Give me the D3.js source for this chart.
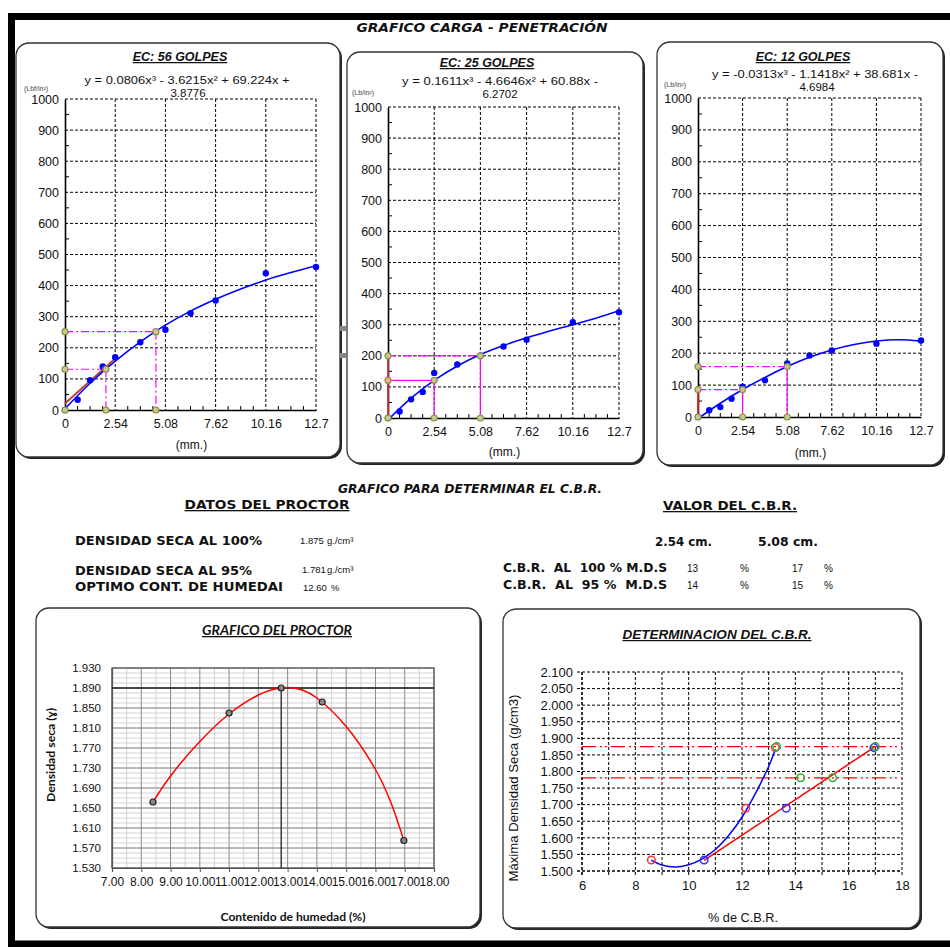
<!DOCTYPE html>
<html>
<head>
<meta charset="utf-8">
<script src="https://cdn.jsdelivr.net/npm/d3@7"></script>
<style>
body { margin: 0; background: #fff; }
text { font-family: "Liberation Sans", Arial, sans-serif; fill: #111; }
</style>
</head>
<body>
<div id="chart"></div>
<script>
// ---- data ----
// penetration (mm) and load (lb/in2) for the three compaction energies
var penX = [0, 0.64, 1.27, 1.91, 2.54, 3.81, 5.08, 6.35, 7.62, 10.16, 12.7];
var load56 = [0, 33, 96, 140, 170, 218, 258, 311, 352, 440, 460];
var load25 = [0, 21, 60, 84, 145, 172, 200, 230, 252, 308, 340];
var load12 = [0, 21, 31, 57, 95, 115, 168, 193, 209, 230, 240];

// trend lines as drawn on the charts
var trendX = [0, 1.27, 2.54, 3.81, 5.08, 6.35, 7.62, 8.89, 10.16, 11.43, 12.7];
var trend56 = [4, 86, 157, 219, 273, 318, 356, 389, 418, 442, 464];
var trend25 = [-6, 64, 121, 167, 204, 233, 258, 280, 300, 321, 345];
var trend12 = [-5, 43, 86, 124, 158, 187, 210, 227, 238, 242, 238];

// corrected readings at 2.54 / 5.08 mm (x position, load)
var corrX56 = [2.07, 4.6], corrY56 = [131, 252];
var corrX25 = [2.54, 5.08], corrY25 = [121, 200];
var corrX12 = [2.54, 5.08], corrY12 = [86, 158];
// red correction lines  [x0, y0, x1, y1]
var red56 = [0, 21, 2.54, 166];
var red25 = [0, 0, 0, 200];
var red12 = [0, 0, 0, 86];

var penTicks = [0, 2.54, 5.08, 7.62, 10.16, 12.7];
var penTickLabels = ["0", "2.54", "5.08", "7.62", "10.16", "12.7"];
var loadTicks = [0, 100, 200, 300, 400, 500, 600, 700, 800, 900, 1000];

// proctor
var moisture = [8.40, 11.0, 12.78, 14.18, 16.97];
var dryDens = [1.662, 1.840, 1.890, 1.862, 1.585];
var proctorCurveX = [8.4, 9, 10, 11, 12, 12.5, 13, 13.5, 14, 15, 16, 16.5, 16.97];
var proctorCurveY = [1.662, 1.714, 1.783, 1.838, 1.876, 1.887, 1.891, 1.886, 1.870, 1.813, 1.727, 1.665, 1.585];
var maxDensLine = 1.890, optMoistLine = 12.78;
var proctorXTicks = [7, 8, 9, 10, 11, 12, 13, 14, 15, 16, 17, 18];
var proctorYTicks = [1.53, 1.57, 1.61, 1.65, 1.69, 1.73, 1.77, 1.81, 1.85, 1.89, 1.93];

// CBR determination
var densBlows = [1.533, 1.689, 1.872];          // 12, 25, 56 golpes
var cbr254 = [8.6, 12.14, 13.25];
var cbr508 = [10.58, 13.66, 16.95];
var fit254X = [8.6, 9.0, 9.5, 10.0, 10.5, 11.0, 11.5, 12.0, 12.5, 13.0, 13.25];
var fit254Y = [1.533, 1.518, 1.512, 1.519, 1.536, 1.565, 1.607, 1.662, 1.733, 1.815, 1.866];
var fit508X = [10.58, 16.95];
var fit508Y = [1.532, 1.873];
var refDens = [1.875, 1.781];
var cbrHitX = [13.3, 14.2, 15.4, 17.0];
var cbrHitY = [1.875, 1.781, 1.781, 1.875];
var cbrXTicks = [6, 8, 10, 12, 14, 16, 18];
var cbrYTicks = [1.5, 1.55, 1.6, 1.65, 1.7, 1.75, 1.8, 1.85, 1.9, 1.95, 2.0, 2.05, 2.1];

var svg = d3.select("#chart").append("svg")
    .attr("width", 950)
    .attr("height", 947);

// outer sheet frame (right side cut off)
svg.append("path")
    .attr("d", "M950,16.5 H11.5 V944 H950")
    .attr("fill", "none")
    .attr("stroke", "#000")
    .attr("stroke-width", 7);

function panel(x0, y0, x1, y1) {
    svg.append("rect")
        .attr("x", x0 + 2).attr("y", y0 + 2)
        .attr("width", x1 - x0).attr("height", y1 - y0)
        .attr("rx", 13)
        .attr("fill", "#222");
    svg.append("rect")
        .attr("x", x0).attr("y", y0)
        .attr("width", x1 - x0).attr("height", y1 - y0)
        .attr("rx", 13)
        .attr("fill", "#fff")
        .attr("stroke", "#333")
        .attr("stroke-width", 1.3);
}

function txt(x, y, s, o) {
    o = o || {};
    var t = svg.append("text")
        .attr("x", x).attr("y", y)
        .attr("text-anchor", o.anchor || "start")
        .attr("font-size", o.size || 12)
        .text(s);
    if (o.bold) t.attr("font-weight", "bold");
    if (o.italic) t.attr("font-style", "italic");
    if (o.under) t.style("text-decoration", "underline");
    if (o.family) t.style("font-family", o.family);
    if (o.len) t.attr("textLength", o.len).attr("lengthAdjust", "spacingAndGlyphs");
    if (o.fill) t.style("fill", o.fill);
    return t;
}

// titles
txt(482, 32, "GRAFICO CARGA - PENETRACIÓN", {anchor: "middle", bold: true, italic: true, size: 13, family: "DejaVu Sans", len: 251});

// ---- penetration charts ----
function drawPen(o) {
    panel(o.px0, o.py0, o.px1, o.py1);
    var x = d3.scaleLinear().domain([0, 12.7]).range([o.l, o.r]);
    var y = d3.scaleLinear().domain([0, 1000]).range([o.b, o.t]);
    var g = svg.append("g");

    // grid
    g.selectAll(".hg").data(loadTicks.slice(1)).enter().append("line")
        .attr("x1", o.l).attr("x2", o.r)
        .attr("y1", d => y(d)).attr("y2", d => y(d))
        .attr("stroke", "#000").attr("stroke-dasharray", "3,2");
    g.selectAll(".vg").data(penTicks.slice(1)).enter().append("line")
        .attr("y1", o.t).attr("y2", o.b)
        .attr("x1", d => x(d)).attr("x2", d => x(d))
        .attr("stroke", "#000").attr("stroke-dasharray", "3,2");

    // minor ticks
    g.selectAll(".my").data(d3.range(50, 1000, 100)).enter().append("line")
        .attr("x1", o.l).attr("x2", o.l + 4)
        .attr("y1", d => y(d)).attr("y2", d => y(d))
        .attr("stroke", "#000");
    g.selectAll(".mx").data(d3.range(1, 20).filter(i => i % 4 != 0).map(i => i * 0.635)).enter().append("line")
        .attr("x1", d => x(d)).attr("x2", d => x(d))
        .attr("y1", o.b).attr("y2", o.b - 4)
        .attr("stroke", "#000");

    // axes
    var leftAxis = d3.axisLeft(y).tickValues(loadTicks).tickSize(0).tickPadding(6).tickFormat(d3.format("d"));
    var bottomAxis = d3.axisBottom(x).tickValues(penTicks).tickSize(0).tickPadding(9)
        .tickFormat((d, i) => penTickLabels[i]);
    var ga = g.append("g").attr("transform", `translate(${o.l},0)`).call(leftAxis);
    var gb = g.append("g").attr("transform", `translate(0,${o.b})`).call(bottomAxis);
    [ga, gb].forEach(a => {
        a.select(".domain").attr("stroke", "#000").attr("stroke-width", 1.6);
        a.selectAll("text").attr("font-size", 12.5).attr("font-family", "Liberation Sans").attr("fill", "#111");
    });
    gb.selectAll("text").attr("dy", "0.71em");

    // clip
    var cid = "clip" + o.id;
    svg.append("clipPath").attr("id", cid).append("rect")
        .attr("x", o.l).attr("y", o.t).attr("width", o.r - o.l).attr("height", o.b - o.t);

    // correction lines
    var cx = o.corrX, cy = o.corrY;
    for (var i = 0; i < 2; i++) {
        g.append("line")
            .attr("x1", x(0)).attr("x2", x(cx[i]))
            .attr("y1", y(cy[i])).attr("y2", y(cy[i]))
            .attr("stroke", "#ff00ff").attr("stroke-width", 1.2)
            .attr("stroke-dasharray", o.hDash[i]);
        g.append("line")
            .attr("x1", x(cx[i])).attr("x2", x(cx[i]))
            .attr("y1", y(cy[i])).attr("y2", y(0))
            .attr("stroke", "#ff00ff").attr("stroke-width", 1.2)
            .attr("stroke-dasharray", o.vDash);
    }
    g.append("line")
        .attr("x1", x(o.red[0])).attr("y1", y(o.red[1]))
        .attr("x2", x(o.red[2])).attr("y2", y(o.red[3]))
        .attr("stroke", o.redColor).attr("stroke-width", 1.8);

    // trend
    var line = d3.line().x((d, i) => x(trendX[i])).y(d => y(d)).curve(d3.curveCatmullRom);
    g.append("path").datum(o.trend)
        .attr("clip-path", `url(#${cid})`)
        .attr("d", line)
        .attr("fill", "none").attr("stroke", "#0000ff").attr("stroke-width", 1.6);

    // points
    g.selectAll(".pt").data(o.load).enter().append("circle")
        .attr("cx", (d, i) => x(penX[i])).attr("cy", d => y(d))
        .attr("r", 3.2).attr("fill", "#0000ff");

    // olive markers
    var marks = [[0, 0]];
    for (var j = 0; j < 2; j++) {
        marks.push([0, cy[j]], [cx[j], cy[j]], [cx[j], 0]);
    }
    g.selectAll(".om").data(marks).enter().append("circle")
        .attr("cx", d => x(d[0])).attr("cy", d => y(d[1]))
        .attr("r", 3).attr("fill", "#c9c98f").attr("stroke", "#8e8e4a").attr("stroke-width", 1.2);

    // texts
    txt(o.titleX, o.titleY, o.title, {anchor: "middle", bold: true, italic: true, under: true, size: 12.5});
    txt(o.eqX, o.eqY, o.eq1, {anchor: "middle", size: 11.5, len: o.eqLen});
    txt(o.eqX2, o.eqY + 13, o.eq2, {anchor: "middle", size: 11.5});
    txt(o.unitX, o.unitY, o.unit, {size: 7, fill: "#444"});
    txt((o.l + o.r) / 2 + 1, o.mmY, "(mm.)", {anchor: "middle", size: 12});
}

drawPen({id: 1, px0: 16, py0: 43, px1: 340, py1: 457, l: 65, r: 316, t: 99, b: 410,
    load: load56, trend: trend56, corrX: corrX56, corrY: corrY56, red: red56, redColor: "#c0392b",
    hDash: ["8,3,2,3", "8,3,2,3"], vDash: "8,3,2,3",
    title: "EC: 56 GOLPES", titleX: 180, titleY: 61,
    eq1: "y = 0.0806x³ - 3.6215x² + 69.224x +", eq2: "3.8776", eqX: 187, eqX2: 188, eqY: 84, eqLen: 205,
    unit: "(Lbf/in²)", unitX: 24, unitY: 91, mmY: 449});

drawPen({id: 2, px0: 347, py0: 52, px1: 643, py1: 463, l: 388, r: 619, t: 107, b: 418,
    load: load25, trend: trend25, corrX: corrX25, corrY: corrY25, red: red25, redColor: "#d03030",
    hDash: ["none", "8,3,2,3"], vDash: "none",
    title: "EC: 25 GOLPES", titleX: 487, titleY: 67,
    eq1: "y = 0.1611x³ - 4.6646x² + 60.88x -", eq2: "6.2702", eqX: 500, eqX2: 500, eqY: 85, eqLen: 196,
    unit: "(Lb/in²)", unitX: 352, unitY: 95, mmY: 456});

drawPen({id: 3, px0: 657, py0: 42, px1: 943, py1: 465, l: 698, r: 921, t: 98, b: 417,
    load: load12, trend: trend12, corrX: corrX12, corrY: corrY12, red: red12, redColor: "#e02020",
    hDash: ["8,3,2,3", "8,3,2,3"], vDash: "none",
    title: "EC: 12  GOLPES", titleX: 803, titleY: 61,
    eq1: "y = -0.0313x³ - 1.1418x² + 38.681x -", eq2: "4.6984", eqX: 815, eqX2: 817, eqY: 78, eqLen: 206,
    unit: "(Lb/in²)", unitX: 664, unitY: 87, mmY: 457});

// grey marks between the first two panels
svg.append("rect").attr("x", 340).attr("y", 326).attr("width", 6).attr("height", 5).attr("fill", "#888");
svg.append("rect").attr("x", 340).attr("y", 353).attr("width", 6).attr("height", 5).attr("fill", "#888");

// ---- middle block ----
var heavy = "DejaVu Sans";
txt(470, 493, "GRAFICO PARA DETERMINAR EL C.B.R.", {anchor: "middle", bold: true, italic: true, size: 12, family: heavy, len: 264});
txt(267, 509, "DATOS DEL PROCTOR", {anchor: "middle", bold: true, under: true, size: 13, family: heavy, len: 165});
txt(75, 545, "DENSIDAD SECA AL 100%", {bold: true, size: 12, family: heavy, len: 187});
txt(75, 575, "DENSIDAD SECA AL 95%", {bold: true, size: 12, family: heavy, len: 177});
txt(75, 591, "OPTIMO CONT. DE HUMEDAI", {bold: true, size: 12, family: heavy, len: 208});
var proctorVals = [["1.875", 300, 544, "g./cm³", 327], ["1.781", 302, 573, "g./cm³", 327], ["12.60", 303, 591, "%", 331]];
proctorVals.forEach(function (v) {
    txt(v[1], v[2], v[0], {size: 9.5});
    txt(v[4], v[2], v[3], {size: 9.5});
});

txt(730, 510, "VALOR DEL C.B.R.", {anchor: "middle", bold: true, under: true, size: 13, family: heavy, len: 134});
txt(655, 546, "2.54 cm.", {bold: true, size: 12, family: heavy, len: 57});
txt(758, 546, "5.08 cm.", {bold: true, size: 12, family: heavy, len: 60});
txt(503, 572, "C.B.R.  AL  100 % M.D.S", {bold: true, size: 12, family: heavy, len: 164}).attr("xml:space", "preserve");
txt(503, 589, "C.B.R.  AL  95 %  M.D.S", {bold: true, size: 12, family: heavy, len: 164}).attr("xml:space", "preserve");
var cbrTable = [["13", "17"], ["14", "15"]];
cbrTable.forEach(function (row, i) {
    var yy = 572 + i * 17;
    txt(687, yy, row[0], {size: 10});
    txt(740, yy, "%", {size: 10});
    txt(792, yy, row[1], {size: 10});
    txt(824, yy, "%", {size: 10});
});

// ---- proctor chart ----
(function () {
    panel(36, 608, 480, 927);
    var l = 112, r = 434, t = 668, b = 868;
    var x = d3.scaleLinear().domain([7, 18]).range([l, r]);
    var y = d3.scaleLinear().domain([1.53, 1.93]).range([b, t]);
    var g = svg.append("g");

    g.selectAll(".hmin").data(d3.range(1, 40)).enter().append("line")
        .attr("x1", l).attr("x2", r)
        .attr("y1", d => y(1.53 + d * 0.01)).attr("y2", d => y(1.53 + d * 0.01))
        .attr("stroke", "#c8c8c8").attr("stroke-width", 0.8);
    g.selectAll(".vmin").data(d3.range(0, 11)).enter().append("line")
        .attr("y1", t).attr("y2", b)
        .attr("x1", d => x(7.5 + d)).attr("x2", d => x(7.5 + d))
        .attr("stroke", "#c8c8c8").attr("stroke-width", 0.8);
    g.selectAll(".hmaj").data(proctorYTicks).enter().append("line")
        .attr("x1", l).attr("x2", r)
        .attr("y1", d => y(d)).attr("y2", d => y(d))
        .attr("stroke", "#8a8a8a").attr("stroke-width", 1);
    g.selectAll(".vmaj").data(proctorXTicks).enter().append("line")
        .attr("y1", t).attr("y2", b)
        .attr("x1", d => x(d)).attr("x2", d => x(d))
        .attr("stroke", "#8a8a8a").attr("stroke-width", 1);
    g.append("rect").attr("x", l).attr("y", t).attr("width", r - l).attr("height", b - t)
        .attr("fill", "none").attr("stroke", "#555").attr("stroke-width", 1.2);

    var ya = g.append("g").attr("transform", `translate(${l},0)`)
        .call(d3.axisLeft(y).tickValues(proctorYTicks).tickSize(0).tickPadding(11).tickFormat(d3.format(".3f")));
    var xa = g.append("g").attr("transform", `translate(0,${b})`)
        .call(d3.axisBottom(x).tickValues(proctorXTicks).tickSize(4).tickPadding(5).tickFormat(d3.format(".2f")));
    [ya, xa].forEach(a => {
        a.select(".domain").attr("stroke", "#555").attr("stroke-width", 1.2);
        a.selectAll("line").attr("stroke", "#555");
        a.selectAll("text").attr("font-size", 11.5).attr("font-family", "Lato").attr("fill", "#222");
    });
    xa.selectAll("text").attr("font-size", 12);

    g.append("line").attr("x1", l).attr("x2", r)
        .attr("y1", y(maxDensLine)).attr("y2", y(maxDensLine))
        .attr("stroke", "#222").attr("stroke-width", 1.3);
    g.append("line").attr("x1", x(optMoistLine)).attr("x2", x(optMoistLine))
        .attr("y1", y(maxDensLine)).attr("y2", b)
        .attr("stroke", "#222").attr("stroke-width", 1.3);

    var line = d3.line().x((d, i) => x(proctorCurveX[i])).y(d => y(d)).curve(d3.curveCatmullRom);
    g.append("path").datum(proctorCurveY).attr("d", line)
        .attr("fill", "none").attr("stroke", "#ff0000").attr("stroke-width", 1.5);

    g.selectAll(".pp").data(dryDens).enter().append("circle")
        .attr("cx", (d, i) => x(moisture[i])).attr("cy", d => y(d))
        .attr("r", 3).attr("fill", "#888").attr("stroke", "#222").attr("stroke-width", 1.2);

    txt(277, 635, "GRAFICO DEL PROCTOR", {anchor: "middle", bold: true, italic: true, under: true, size: 13, family: "Lato", len: 150});
    txt(293, 921, "Contenido de humedad (%)", {anchor: "middle", bold: true, size: 11, family: "Lato", len: 145});
    txt(0, 0, "Densidad seca (ɣ)", {anchor: "middle", bold: true, size: 11, family: "Lato", len: 94})
        .attr("transform", "translate(55,755) rotate(-90)");
})();

// ---- CBR chart ----
(function () {
    panel(503, 609, 920, 928);
    var l = 582, r = 902, t = 672, b = 871;
    var x = d3.scaleLinear().domain([6, 18]).range([l, r]);
    var y = d3.scaleLinear().domain([1.5, 2.1]).range([b, t]);
    var g = svg.append("g");

    g.selectAll(".hg").data(cbrYTicks).enter().append("line")
        .attr("x1", l - 5).attr("x2", r)
        .attr("y1", d => y(d)).attr("y2", d => y(d))
        .attr("stroke", "#000").attr("stroke-width", d => d == 1.5 ? 1.6 : 1).attr("stroke-dasharray", "3,2");
    g.selectAll(".vg").data(d3.range(6, 19)).enter().append("line")
        .attr("y1", t).attr("y2", b + 5)
        .attr("x1", d => x(d)).attr("x2", d => x(d))
        .attr("stroke", "#000").attr("stroke-width", d => d == 6 ? 1.6 : 1).attr("stroke-dasharray", "3,2");

    var ya = g.append("g").attr("transform", `translate(${l},0)`)
        .call(d3.axisLeft(y).tickValues(cbrYTicks).tickSize(0).tickPadding(9).tickFormat(d3.format(".3f")));
    var xa = g.append("g").attr("transform", `translate(0,${b})`)
        .call(d3.axisBottom(x).tickValues(cbrXTicks).tickSize(0).tickPadding(10));
    [ya, xa].forEach(a => {
        a.select(".domain").remove();
        a.selectAll("text").attr("font-size", 13).attr("font-family", "Liberation Sans").attr("fill", "#222");
    });

    refDens.forEach(function (d) {
        g.append("line").attr("x1", l).attr("x2", r)
            .attr("y1", y(d)).attr("y2", y(d))
            .attr("stroke", "#ff0000").attr("stroke-width", 1.3)
            .attr("stroke-dasharray", "14,4,2,3,2,4");
    });

    var curve = d3.line().x((d, i) => x(fit254X[i])).y(d => y(d)).curve(d3.curveCatmullRom);
    g.append("path").datum(fit254Y).attr("d", curve)
        .attr("fill", "none").attr("stroke", "#0000ff").attr("stroke-width", 1.5);
    var lin = d3.line().x((d, i) => x(fit508X[i])).y(d => y(d));
    g.append("path").datum(fit508Y).attr("d", lin)
        .attr("fill", "none").attr("stroke", "#ff0000").attr("stroke-width", 1.5);

    function ring(xs, ys, col) {
        g.selectAll(null).data(ys).enter().append("circle")
            .attr("cx", (d, i) => x(xs[i])).attr("cy", d => y(d))
            .attr("r", 3.8).attr("fill", "none").attr("stroke", col).attr("stroke-width", 1.5);
    }
    ring(cbr254, densBlows, "#ff3030");
    ring(cbr508, densBlows, "#3030ff");
    ring(cbrHitX, cbrHitY, "#30b030");

    txt(717, 639, "DETERMINACION DEL C.B.R.", {anchor: "middle", bold: true, italic: true, under: true, size: 12, len: 189});
    txt(743, 922, "% de C.B.R.", {anchor: "middle", size: 12, len: 70});
    txt(0, 0, "Máxima Densidad Seca (g/cm3)", {anchor: "middle", size: 12.5, len: 187})
        .attr("transform", "translate(518,788) rotate(-90)");
})();
</script>
</body>
</html>
